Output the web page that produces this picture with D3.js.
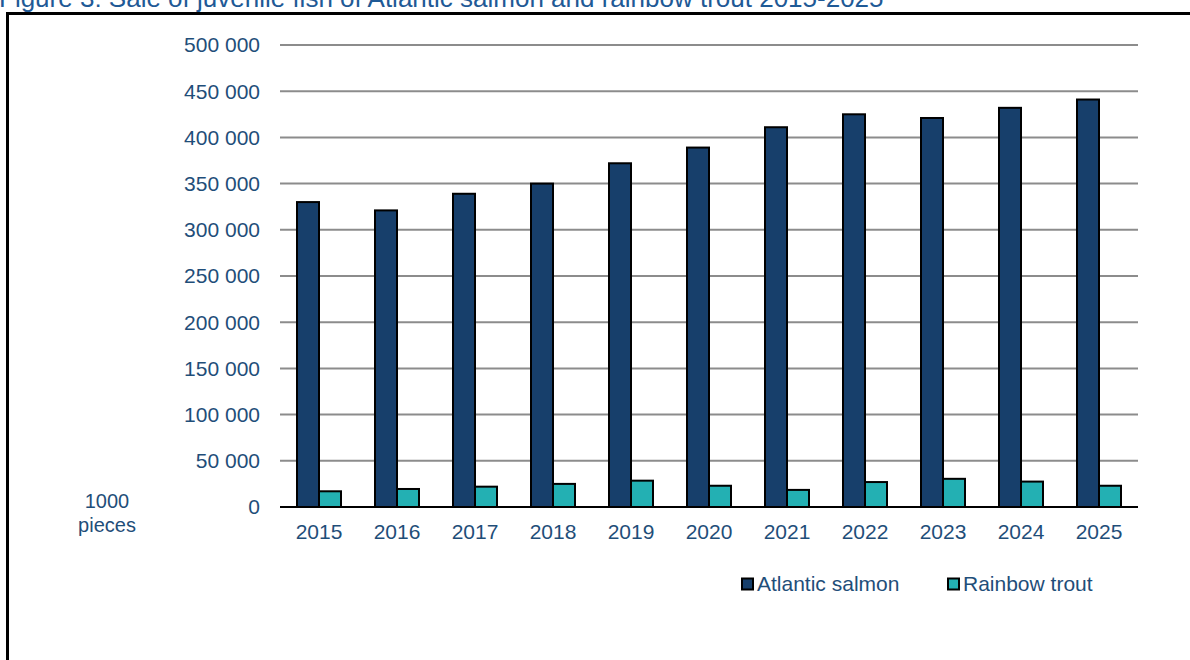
<!DOCTYPE html>
<html>
<head>
<meta charset="utf-8">
<script src="https://cdn.jsdelivr.net/npm/d3@7"></script>
<style>
  body { margin: 0; background: #fff; }
  svg { display: block; }
</style>
</head>
<body>
<svg id="chart" width="1190" height="660"></svg>
<script>
// Data (1000 pieces)
const years = ["2015", "2016", "2017", "2018", "2019", "2020", "2021", "2022", "2023", "2024", "2025"];
const salmon = [330000, 321000, 339000, 350000, 372000, 389000, 411000, 425000, 421000, 432000, 441000];
const trout = [17000, 19500, 22000, 25000, 28500, 23000, 18500, 27000, 30500, 27500, 23000];
const seriesNames = ["Atlantic salmon", "Rainbow trout"];
const seriesColors = ["#173F6B", "#23B0B3"];
const yTicks = [0, 50000, 100000, 150000, 200000, 250000, 300000, 350000, 400000, 450000, 500000];

const svg = d3.select("#chart");
const textColor = "#1F4E79";
const font = "Arial, 'Liberation Sans', sans-serif";
const fontSize = "21px";

// title, mostly cut off at the top edge (as in the source figure)
svg.append("text")
    .attr("x", -1)
    .attr("y", 7)
    .attr("font-family", font)
    .attr("font-size", "26px")
    .attr("fill", "#1F5A96")
    .text("Figure 3: Sale of juvenile fish of Atlantic salmon and rainbow trout 2015-2025");

// frame (top and left edges)
svg.append("path")
    .attr("d", "M7.5,660 V13.5 H1190")
    .attr("fill", "none")
    .attr("stroke", "#000")
    .attr("stroke-width", 3);

const plotLeft = 280, plotRight = 1138, plotTop = 45, plotBottom = 507;

const x = d3.scaleBand()
    .domain(years)
    .range([plotLeft, plotRight])
    .paddingInner(0)
    .paddingOuter(0);

const y = d3.scaleLinear()
    .domain([0, 500000])
    .range([plotBottom, plotTop]);

const barW = 22;

// gridlines
svg.append("g")
    .selectAll("line")
    .data(yTicks.filter(d => d > 0))
    .join("line")
    .attr("x1", plotLeft)
    .attr("x2", plotRight)
    .attr("y1", d => y(d))
    .attr("y2", d => y(d))
    .attr("stroke", "#8C8C8C")
    .attr("stroke-width", 2);

// y tick labels
svg.append("g")
    .selectAll("text")
    .data(yTicks)
    .join("text")
    .attr("x", 260)
    .attr("y", d => y(d))
    .attr("dy", "0.35em")
    .attr("text-anchor", "end")
    .attr("font-family", font)
    .attr("font-size", fontSize)
    .attr("fill", textColor)
    .text(d => d3.format(",")(d).replace(/,/g, " "));

// unit label
svg.append("text")
    .attr("x", 107)
    .attr("y", 508)
    .attr("text-anchor", "middle")
    .attr("font-family", font)
    .attr("font-size", "20px")
    .attr("fill", textColor)
    .selectAll("tspan")
    .data(["1000", "pieces"])
    .join("tspan")
    .attr("x", 107)
    .attr("dy", (d, i) => i ? "24px" : 0)
    .text(d => d);

// bars
const series = [salmon, trout];
series.forEach((vals, s) => {
    svg.append("g")
        .selectAll("rect")
        .data(vals)
        .join("rect")
        .attr("x", (d, i) => x(years[i]) + x.bandwidth() / 2 - barW + s * barW)
        .attr("y", d => y(d))
        .attr("width", barW)
        .attr("height", d => plotBottom - y(d))
        .attr("fill", seriesColors[s])
        .attr("stroke", "#000")
        .attr("stroke-width", 2);
});

// baseline
svg.append("line")
    .attr("x1", plotLeft)
    .attr("x2", plotRight)
    .attr("y1", plotBottom)
    .attr("y2", plotBottom)
    .attr("stroke", "#000")
    .attr("stroke-width", 2);

// x labels
svg.append("g")
    .selectAll("text")
    .data(years)
    .join("text")
    .attr("x", d => x(d) + x.bandwidth() / 2)
    .attr("y", 539)
    .attr("text-anchor", "middle")
    .attr("font-family", font)
    .attr("font-size", fontSize)
    .attr("fill", textColor)
    .text(d => d);

// legend
const legendX = [742, 948];
const legend = svg.append("g")
    .selectAll("g")
    .data(seriesNames)
    .join("g")
    .attr("transform", (d, i) => `translate(${legendX[i]},584)`);

legend.append("rect")
    .attr("x", 0)
    .attr("y", -5.5)
    .attr("width", 11)
    .attr("height", 11)
    .attr("fill", (d, i) => seriesColors[i])
    .attr("stroke", "#000")
    .attr("stroke-width", 2);

legend.append("text")
    .attr("x", 15)
    .attr("y", 0)
    .attr("dy", "0.35em")
    .attr("font-family", font)
    .attr("font-size", fontSize)
    .attr("fill", textColor)
    .text(d => d);
</script>
</body>
</html>
